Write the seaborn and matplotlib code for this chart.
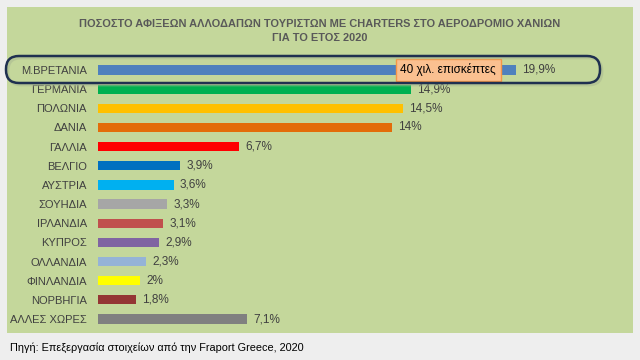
import matplotlib
matplotlib.use("Agg")
import matplotlib.pyplot as plt
from matplotlib import font_manager
import seaborn as sns
import pandas as pd
from matplotlib.patches import Rectangle, FancyBboxPatch

countries = ["Μ.ΒΡΕΤΑΝΙΑ", "ΓΕΡΜΑΝΙΑ", "ΠΟΛΩΝΙΑ", "ΔΑΝΙΑ", "ΓΑΛΛΙΑ", "ΒΕΛΓΙΟ", "ΑΥΣΤΡΙΑ",
             "ΣΟΥΗΔΙΑ", "ΙΡΛΑΝΔΙΑ", "ΚΥΠΡΟΣ", "ΟΛΛΑΝΔΙΑ", "ΦΙΝΛΑΝΔΙΑ", "ΝΟΡΒΗΓΙΑ", "ΑΛΛΕΣ ΧΩΡΕΣ"]
shares = [19.9, 14.9, 14.5, 14.0, 6.7, 3.9, 3.6, 3.3, 3.1, 2.9, 2.3, 2.0, 1.8, 7.1]
value_labels = ["19,9%", "14,9%", "14,5%", "14%", "6,7%", "3,9%", "3,6%", "3,3%", "3,1%",
                "2,9%", "2,3%", "2%", "1,8%", "7,1%"]
colors = ["#4f81bd", "#00b050", "#ffc000", "#e36c09", "#ff0000", "#0070c0", "#00b0f0",
          "#a6a6a6", "#c0504d", "#8064a2", "#95b3d7", "#ffff00", "#943634", "#808080"]
title = "ΠΟΣΟΣΤΟ ΑΦΙΞΕΩΝ ΑΛΛΟΔΑΠΩΝ ΤΟΥΡΙΣΤΩΝ ΜΕ CHARTERS ΣΤΟ ΑΕΡΟΔΡΟΜΙΟ ΧΑΝΙΩΝ\nΓΙΑ ΤΟ ΕΤΟΣ 2020"
callout = "40 χιλ. επισκέπτες"
source = "Πηγή: Επεξεργασία στοιχείων από την Fraport Greece, 2020"

sns.set_style("white")
names = {f.name for f in font_manager.fontManager.ttflist}
narrow = "Liberation Sans Narrow" in names
FAM = ["Liberation Sans Narrow", "DejaVu Sans"] if narrow else ["Liberation Sans", "DejaVu Sans"]
plt.rcParams["font.family"] = FAM
sz = 1.12 if narrow else 1.0

W, H = 640, 360
fig = plt.figure(figsize=(6.4, 3.6), dpi=100, facecolor="#eeeeee")

# green panel
fig.patches.append(Rectangle((7 / W, 1 - 333 / H), 626 / W, 326 / H, transform=fig.transFigure,
                             facecolor="#c4d79b", edgecolor="none", zorder=-10))

df = pd.DataFrame({"country": countries, "share": shares})
ax = fig.add_axes([98 / W, 1 - 328.6 / H, (622 - 98) / W, (328.6 - 60.4) / H])
ax.patch.set_alpha(0)
sns.barplot(data=df, x="share", y="country", hue="country", palette=colors, legend=False,
            orient="h", width=0.48, saturation=1, linewidth=0, ax=ax)
ax.set_xlim(0, (622 - 98) / 21.0)
ax.set_ylim(13.5, -0.5)
for s in ax.spines.values():
    s.set_visible(False)
ax.set_xticks([])
ax.set_xlabel("")
ax.set_ylabel("")
ax.tick_params(axis="y", length=0, pad=8, labelsize=8 * sz, labelcolor="#404040")
for i, (v, lab) in enumerate(zip(shares, value_labels)):
    ax.text(v + 0.3, i, lab, va="center", ha="left", fontsize=8.5 * sz, color="#404040")

ax.text(16.67, 0, callout, ha="center", va="center", fontsize=8.5 * sz, color="#000000", zorder=5,
        bbox=dict(boxstyle="square,pad=0.4", facecolor="#fac090", edgecolor="#f79646", lw=1))

# overlay in pixel coordinates
ov = fig.add_axes([0, 0, 1, 1])
ov.set_xlim(0, W)
ov.set_ylim(H, 0)
ov.axis("off")
ov.patch.set_alpha(0)
ov.add_patch(FancyBboxPatch((8, 58), 594, 27, boxstyle="round,pad=0,rounding_size=13",
                            facecolor="none", edgecolor="#a8b690", lw=2, alpha=0.5))
ov.add_patch(FancyBboxPatch((6, 56), 594, 27, boxstyle="round,pad=0,rounding_size=13",
                            facecolor="none", edgecolor="#1f3050", lw=1.8))

fig.text(320 / W, 1 - 31 / H, title, ha="center", va="center", fontsize=7.9 * sz,
         fontweight="bold", color="#595959", linespacing=1.55)
fig.text(10 / W, 1 - 348 / H, source, ha="left", va="center", fontsize=7.8 * sz, color="#000000")

fig.savefig("out.png", dpi=100, facecolor=fig.get_facecolor())
